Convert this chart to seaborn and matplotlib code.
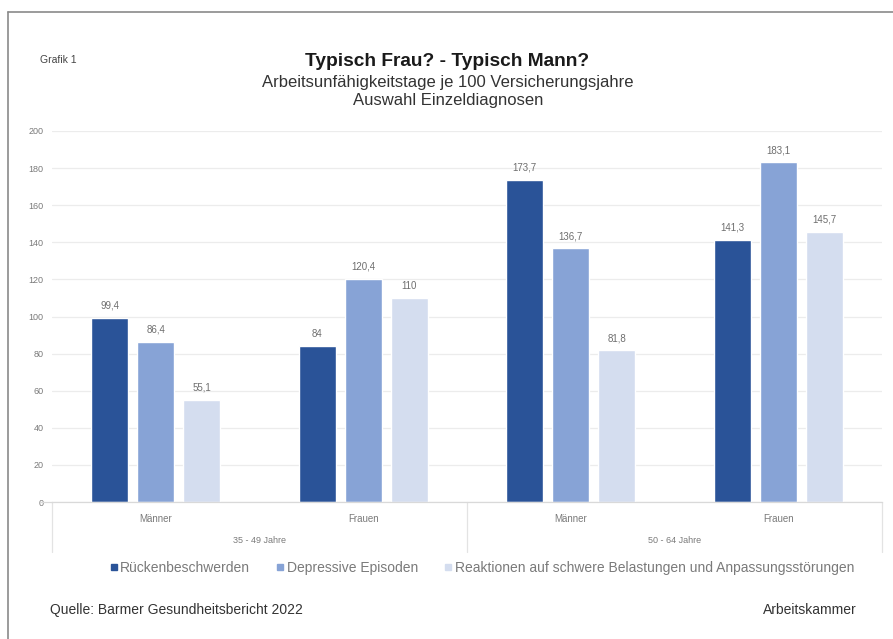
import matplotlib
matplotlib.use("Agg")
import matplotlib.pyplot as plt
import seaborn as sns
import pandas as pd
from matplotlib.lines import Line2D

# ---- data ----
age_groups = ["35 - 49 Jahre", "35 - 49 Jahre", "50 - 64 Jahre", "50 - 64 Jahre"]
sexes = ["Männer", "Frauen", "Männer", "Frauen"]
series = ["Rückenbeschwerden", "Depressive Episoden",
          "Reaktionen auf schwere Belastungen und Anpassungsstörungen"]
ruecken = [99.4, 84.0, 173.7, 141.3]
depressiv = [86.4, 120.4, 136.7, 183.1]
reaktionen = [55.1, 110.0, 81.8, 145.7]
y_ticks = [0, 20, 40, 60, 80, 100, 120, 140, 160, 180, 200]

colors = ["#2a5398", "#87a3d6", "#d4ddef"]

keys = [f"{a}|{s}" for a, s in zip(age_groups, sexes)]
rows = []
for ser, vals in zip(series, [ruecken, depressiv, reaktionen]):
    for k, v in zip(keys, vals):
        rows.append({"cat": k, "serie": ser, "wert": v})
df = pd.DataFrame(rows)

sns.set_theme(style="white")
plt.rcParams["font.family"] = ["Liberation Sans", "DejaVu Sans"]

W, H = 893, 639
fig = plt.figure(figsize=(W / 100, H / 100), dpi=100)
ax = fig.add_axes([52 / W, 1 - 502 / H, 830 / W, 371 / H])

sns.barplot(data=df, x="cat", y="wert", hue="serie", order=keys,
            hue_order=series, palette=colors, width=0.665, gap=0.2,
            saturation=1, ax=ax, legend=False)

ax.set_ylim(0, 200)
ax.set_yticks(y_ticks)
ax.set_yticklabels([str(t) for t in y_ticks], fontsize=6.5, color="#7a7a7a")
ax.yaxis.grid(True, color="#ececec", linewidth=0.9)
ax.set_axisbelow(True)
for s in ["top", "right", "left"]:
    ax.spines[s].set_visible(False)
ax.spines["bottom"].set_color("#d9d9d9")
ax.spines["bottom"].set_linewidth(0.9)
ax.tick_params(axis="y", length=0, pad=6)
ax.tick_params(axis="x", length=0, pad=9)
ax.set_xticks(range(len(keys)))
ax.set_xticklabels(sexes, fontsize=7, color="#7a7a7a")
ax.set_xlabel("")
ax.set_ylabel("")

# value labels
for cont in ax.containers:
    labels = [f"{b.get_height():.1f}".replace(".", ",").replace(",0", "") for b in cont]
    ax.bar_label(cont, labels=labels, padding=5, fontsize=7, color="#6e6e6e")

# second level category labels & separators
trans = ax.get_xaxis_transform()
ax.text(0.5, -0.105, "35 - 49 Jahre", transform=trans, ha="center", va="center",
        fontsize=6.5, color="#7a7a7a")
ax.text(2.5, -0.105, "50 - 64 Jahre", transform=trans, ha="center", va="center",
        fontsize=6.5, color="#7a7a7a")
for xs in [-0.5, 1.5, 3.5]:
    ax.add_line(Line2D([xs, xs], [0, -0.135], transform=trans, color="#e3e3e3",
                       linewidth=0.9, clip_on=False))
ax.add_line(Line2D([-0.56, -0.5], [0, 0], transform=trans, color="#d9d9d9",
                   linewidth=0.9, clip_on=False))
ax.set_xlim(-0.5, 3.5)

# legend
handles = [Line2D([0], [0], marker="s", linestyle="", markersize=4,
                  markerfacecolor=c, markeredgecolor=c) for c in colors]
fig.legend(handles, series, loc="center", bbox_to_anchor=(481 / W, 1 - 568 / H),
           ncol=3, frameon=False, fontsize=10.0, handletextpad=0.05,
           columnspacing=1.8, handlelength=0.8, labelcolor="#7a7a7a")

# titles
fig.text(447 / W, 1 - 61 / H, "Typisch Frau? - Typisch Mann?", ha="center",
         va="center", fontsize=13.8, fontweight="bold", color="#1a1a1a")
fig.text(448 / W, 1 - 82 / H, "Arbeitsunfähigkeitstage je 100 Versicherungsjahre",
         ha="center", va="center", fontsize=12, color="#333333")
fig.text(448 / W, 1 - 101 / H, "Auswahl Einzeldiagnosen", ha="center",
         va="center", fontsize=12, color="#333333")
fig.text(40 / W, 1 - 60 / H, "Grafik 1", ha="left", va="center",
         fontsize=7.5, color="#444444")

# footer
fig.text(50 / W, 1 - 610 / H, "Quelle: Barmer Gesundheitsbericht 2022",
         ha="left", va="center", fontsize=10, color="#333333")
fig.text(857 / W, 1 - 610 / H, "Arbeitskammer", ha="right", va="center",
         fontsize=10, color="#333333")

# frame
fig.add_artist(Line2D([8 / W, 1], [1 - 12 / H, 1 - 12 / H], transform=fig.transFigure,
                      color="#8a8a8a", linewidth=1.2))
fig.add_artist(Line2D([8 / W, 8 / W], [0, 1 - 12 / H], transform=fig.transFigure,
                      color="#8a8a8a", linewidth=1.2))

fig.savefig("out.png", dpi=100, facecolor="white")
